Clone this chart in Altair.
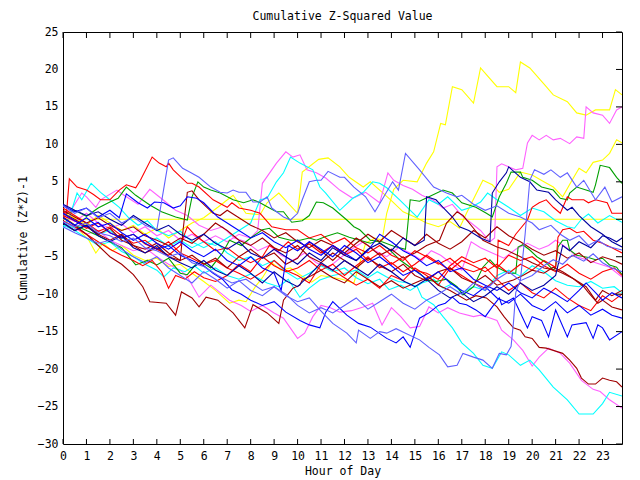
import altair as alt
import pandas as pd

TITLE = "Cumulative Z-Squared Value"
X_TITLE = "Hour of Day"
Y_TITLE = "Cumulative (Z*Z)-1"
HOUR_TICKS = list(range(24))
Y_TICKS = list(range(-30, 26, 5))
X_MAX = 23.83
Y_MIN, Y_MAX = -30, 25

# (hour, cumulative value) pairs, one list per trace
ZERO = [(0, 0), (23.83, 0)]

Y1 = [(0,0.3),(0.4,-0.5),(0.8,-1.8),(1.1,-2.8),(1.4,-4.5),(1.7,-3.2),(2.1,-4.2),(2.5,-3.5),(3.0,-4.8),(3.5,-5.5),(4.0,-5.2),(4.5,-6.3),(5.0,-6.0),(5.5,-7.2),(6.0,-8.3),(6.5,-9.5),(7.1,-11.2),(7.5,-10.8),(7.8,-11.0),(8.2,-9.0),(8.5,-7.8),(8.9,-5.8),(9.3,-6.8),(9.7,-6.5),(10.1,-7.4),(10.6,-8.4),(11.0,-7.5),(11.4,-7.7),(11.9,-8.0),(12.4,-8.5),(12.9,-3.2),(13.3,-2.5),(13.6,-2.8),(13.8,0.8),(14.1,4.0),(14.5,5.2),(15.1,5.0),(15.5,7.5),(15.8,9.0),(16.1,12.8),(16.3,12.6),(16.6,17.7),(17.0,17.3),(17.5,15.5),(17.8,20.2),(18.05,19.3),(18.5,17.7),(19.0,17.7),(19.3,16.9),(19.5,21.0),(19.9,20.2),(20.6,17.7),(20.9,16.6),(21.5,15.7),(21.9,14.2),(22.3,13.9),(22.7,14.6),(23.3,14.6),(23.55,17.3),(23.83,16.6)]
Y2 = [(0,0.8),(0.5,0.2),(1.0,-0.8),(1.5,0.5),(2.0,-0.5),(2.5,-1.5),(3.0,-0.8),(3.5,-2.0),(4.0,-1.2),(4.5,-2.5),(5.0,-1.5),(5.5,-0.5),(6.0,0.2),(6.6,1.6),(7.25,3.2),(7.8,0.8),(8.4,0.6),(8.7,2.2),(9.2,3.5),(10.0,0.8),(10.2,6.3),(10.9,8.0),(11.3,8.2),(11.8,7.0),(12.2,5.6),(12.8,4.3),(13.1,5.0),(13.5,3.9),(14.0,2.5),(14.5,1.0),(15.0,0.3),(15.5,-0.5),(16.0,-1.0),(16.5,-0.3),(16.9,-1.2),(17.2,0.8),(17.9,5.2),(18.3,4.6),(18.6,3.6),(19.0,4.0),(19.5,6.3),(20.0,5.9),(20.5,5.0),(20.9,4.3),(21.3,3.0),(21.7,5.2),(22.0,6.8),(22.3,6.2),(22.6,7.6),(23.0,7.9),(23.3,8.8),(23.6,10.6),(23.83,10.2)]
M1 = [(0,0.5),(0.5,-0.3),(1.0,0.8),(1.5,-0.5),(2.0,-1.2),(2.5,-0.6),(3.0,-1.8),(3.5,-1.0),(4.0,-2.2),(4.5,-1.5),(5.0,-2.8),(5.5,-2.0),(6.0,-3.0),(6.5,-2.2),(7.0,-3.0),(7.5,-2.0),(8.0,-2.5),(8.3,-1.5),(8.5,4.8),(9.1,7.5),(9.5,9.0),(9.8,8.3),(10.1,8.6),(10.4,6.6),(10.8,6.2),(11.2,5.5),(11.8,3.9),(12.35,2.8),(12.9,3.6),(13.5,2.2),(13.85,6.2),(14.1,5.2),(14.5,4.5),(14.9,4.0),(15.3,3.2),(15.8,2.5),(16.2,1.5),(16.6,2.0),(17.0,0.5),(17.4,-0.5),(17.8,-1.5),(18.2,-3.0),(18.4,-2.5),(18.5,7.0),(18.7,7.4),(19.3,6.6),(19.6,6.8),(19.8,10.2),(20.0,11.2),(20.3,10.6),(20.6,11.2),(20.9,10.6),(21.2,10.8),(21.6,10.1),(21.9,11.0),(22.2,10.8),(22.3,15.0),(22.6,14.2),(23.0,13.9),(23.3,12.8),(23.6,14.6),(23.83,15.0)]
M3 = [(0,-0.3),(0.5,-1.2),(1.0,-2.0),(1.5,-1.5),(2.0,-2.8),(2.5,-3.5),(3.0,-4.2),(3.5,-3.8),(4.0,-5.0),(4.5,-6.0),(5.0,-6.8),(5.3,-7.7),(5.8,-10.4),(6.3,-8.8),(6.7,-9.8),(7.1,-10.8),(7.6,-11.5),(8.0,-12.3),(8.5,-11.5),(9.0,-12.5),(9.4,-13.2),(10.0,-15.9),(10.3,-15.2),(10.65,-13.0),(11.0,-11.5),(11.4,-11.8),(11.8,-12.4),(12.3,-12.2),(12.8,-11.7),(13.2,-11.2),(13.6,-14.1),(14.0,-11.8),(14.4,-13.0),(14.8,-14.5),(15.2,-14.3),(15.6,-11.7),(16.0,-12.5),(16.4,-11.8),(16.9,-12.5),(17.5,-13.0),(17.8,-12.8),(18.05,-13.0),(18.5,-13.5),(18.7,-14.8),(19.2,-16.1),(19.6,-17.5),(20.0,-19.6),(20.3,-18.4),(20.7,-17.2),(21.2,-17.9),(21.6,-19.2),(22.1,-21.5),(22.6,-22.7),(22.9,-23.0),(23.3,-24.1),(23.83,-25.2)]
M_MID = [(0,0.5),(0.4,1.5),(0.8,3.5),(1.0,3.0),(1.4,1.6),(1.6,2.6),(2.3,3.9),(2.6,3.2),(3.2,2.0),(3.7,4.0),(4.3,2.5),(4.8,1.2),(5.3,0.5),(5.8,-0.8),(6.3,-1.5),(6.8,-1.0),(7.3,-2.5),(7.8,-3.0),(8.3,-4.2),(8.8,-3.5),(9.3,-4.8),(9.8,-5.5),(10.3,-4.5),(10.8,-5.8),(11.3,-6.5),(11.8,-5.2),(12.3,-4.0),(12.8,-3.0),(13.3,-4.2),(13.8,-5.0),(14.3,-3.8),(14.8,-4.5),(15.3,-5.5),(15.7,-4.2),(16.1,-4.8),(16.6,-6.0),(17.0,-6.8),(17.4,-3.0),(17.8,-3.8),(18.3,-4.5),(18.8,-5.2),(19.3,-4.0),(19.8,-3.2),(20.3,-4.0),(20.7,-3.5),(21.0,-2.8),(21.6,-4.1),(21.9,-5.0),(22.3,-5.4),(22.7,-5.8),(23.3,-6.4),(23.83,-7.7)]
C_LOW = [(0,-0.8),(0.5,-1.5),(1.0,-2.5),(1.5,-3.5),(2.0,-3.0),(2.5,-4.3),(3.0,-5.0),(3.5,-6.0),(4.0,-6.8),(4.3,-7.7),(4.7,-6.5),(5.2,-7.0),(5.6,-6.2),(6.0,-7.2),(6.5,-6.5),(7.0,-7.5),(7.5,-8.0),(8.0,-7.3),(8.7,-8.5),(9.2,-9.0),(9.6,-8.0),(10.1,-10.4),(10.5,-9.2),(10.95,-8.1),(11.5,-7.5),(12.0,-7.2),(12.5,-6.8),(13.0,-7.8),(13.4,-7.0),(13.8,-7.7),(14.3,-8.3),(14.7,-8.5),(15.1,-9.0),(15.3,-10.4),(15.8,-11.4),(16.2,-13.0),(16.6,-14.5),(17.0,-16.5),(17.5,-17.9),(17.9,-19.5),(18.3,-19.9),(18.7,-17.7),(19.0,-18.1),(19.5,-19.5),(19.9,-18.8),(20.3,-20.1),(20.9,-22.4),(21.5,-24.1),(22.0,-26.0),(22.6,-26.0),(23.0,-24.6),(23.3,-23.1),(23.83,-23.6)]
C_HI = [(0,-0.5),(0.5,-1.2),(1.0,-0.8),(1.5,-2.0),(2.0,-1.5),(2.5,-2.6),(3.0,-2.0),(3.5,-3.2),(4.0,-2.5),(4.5,-3.6),(5.0,-2.8),(5.5,-3.8),(6.0,-3.0),(6.5,-3.5),(7.0,-2.5),(7.5,-1.5),(8.0,-0.5),(8.4,2.6),(8.7,2.8),(9.1,5.0),(9.4,6.2),(9.7,8.3),(10.1,7.5),(10.65,6.6),(10.95,4.3),(11.2,3.5),(11.8,1.2),(12.35,2.8),(12.8,3.6),(13.2,5.0),(13.5,4.8),(13.8,4.2),(14.35,2.6),(15.1,0.3),(15.6,2.6),(16.0,2.0),(16.4,3.0),(17.0,1.2),(17.4,1.6),(17.8,2.3),(18.1,3.5),(18.5,2.6),(19.0,1.6),(19.5,0.5),(20.0,1.5),(20.5,1.0),(21.0,-0.2),(21.5,-1.0),(21.8,-1.2),(22.1,0.0),(22.4,0.7),(22.8,-0.5),(23.3,0.5),(23.83,-0.4)]
C_MID = [(0,-1.2),(0.3,0.5),(0.6,3.5),(0.8,2.6),(1.2,4.8),(1.6,3.6),(2.0,2.6),(2.4,1.6),(2.8,0.2),(3.2,-0.8),(3.6,-0.2),(4.0,-1.5),(4.5,-2.2),(5.0,-1.6),(5.5,-3.0),(6.0,-3.8),(6.5,-3.0),(7.0,-4.5),(7.5,-5.5),(8.0,-5.0),(8.5,-6.2),(9.0,-5.5),(9.5,-7.0),(10.0,-8.0),(10.5,-7.2),(11.0,-6.2),(11.5,-7.0),(12.0,-6.5),(12.5,-7.8),(13.0,-8.6),(13.5,-8.0),(13.9,-9.4),(14.4,-8.8),(14.8,-9.5),(15.3,-8.5),(15.8,-8.0),(16.2,-9.2),(16.6,-8.6),(17.0,-9.8),(17.5,-9.0),(18.0,-9.5),(18.5,-7.5),(19.0,-6.8),(19.5,-7.6),(20.0,-6.2),(20.5,-7.0),(21.0,-8.2),(21.5,-8.8),(22.0,-9.0),(22.5,-8.3),(23.0,-9.2),(23.5,-9.0),(23.83,-9.8)]
G1 = [(0,0.5),(0.5,1.2),(1.0,0.4),(1.5,1.5),(2.0,2.3),(2.35,2.8),(2.7,4.3),(3.1,3.2),(3.7,1.9),(4.2,1.0),(4.8,0.3),(5.3,-0.1),(5.5,3.0),(5.75,5.0),(6.0,4.3),(6.3,3.9),(6.7,3.5),(7.25,2.6),(7.7,2.2),(8.1,2.6),(8.4,2.2),(8.8,1.5),(9.1,1.0),(9.4,1.0),(9.75,-0.4),(10.2,-0.2),(10.5,0.5),(10.8,2.3),(11.1,2.2),(11.5,1.5),(12.1,-0.1),(12.4,-1.0),(12.65,-1.4),(13.1,-2.8),(13.6,-3.0),(14.1,-3.6),(14.6,-4.0),(14.8,2.6),(15.2,2.4),(15.6,3.0),(16.2,3.9),(16.6,3.5),(17.0,2.2),(17.6,1.6),(18.05,0.8),(18.3,0.3),(18.6,3.0),(18.9,4.8),(19.1,6.3),(19.5,6.3),(19.6,5.6),(20.0,5.2),(20.4,4.3),(20.9,3.9),(21.2,2.8),(21.5,2.6),(21.6,3.5),(21.9,4.3),(22.3,3.9),(22.6,3.6),(22.7,4.6),(22.9,7.2),(23.3,6.9),(23.6,5.6),(23.83,4.8)]
G_LOW = [(0,0.2),(0.5,-0.8),(1.0,-1.5),(1.5,-2.2),(2.0,-3.0),(2.5,-3.8),(3.1,-6.1),(3.6,-5.5),(4.0,-6.1),(4.5,-5.2),(5.0,-7.2),(5.3,-7.4),(5.8,-5.5),(6.3,-6.5),(6.8,-4.5),(7.1,-2.8),(7.6,-3.5),(8.0,-2.5),(8.5,-1.4),(8.8,-1.2),(9.2,-2.4),(9.7,-2.8),(10.1,-2.8),(10.5,-2.5),(10.8,-2.8),(11.2,-2.3),(11.7,-1.8),(12.2,-2.4),(12.65,-2.8),(13.1,-3.2),(13.4,-2.9),(13.9,-4.0),(14.35,-5.4),(14.8,-6.4),(15.2,-7.2),(15.5,-8.1),(15.9,-8.3),(16.35,-8.0),(16.8,-9.0),(17.05,-10.1),(17.5,-9.0),(17.9,-6.4),(18.2,-5.4),(18.5,-6.4),(19.0,-7.2),(19.3,-7.2),(19.4,-3.7),(19.6,-3.4),(19.9,-4.1),(20.2,-5.0),(20.6,-5.8),(20.9,-6.8),(21.0,-6.4),(21.1,-3.7),(21.3,-2.8),(21.5,-2.8),(21.6,-4.1),(21.9,-4.8),(22.4,-5.1),(22.7,-5.4),(23.0,-5.2),(23.3,-6.1),(23.6,-6.4),(23.83,-7.4)]
R_HI = [(0,1.0),(0.15,0.8),(0.27,5.4),(0.6,4.3),(1.0,3.9),(1.3,3.3),(1.6,2.6),(2.0,2.6),(2.4,3.9),(2.7,4.6),(3.1,4.2),(3.3,5.2),(3.8,8.3),(4.1,7.5),(4.4,7.0),(4.5,7.5),(4.7,6.6),(5.3,4.8),(5.5,4.8),(5.8,4.3),(6.4,2.6),(7.0,1.6),(7.2,2.2),(7.5,1.5),(8.0,1.2),(8.4,0.8),(8.9,-1.0),(9.5,-1.4),(10.0,-1.4),(10.5,-2.5),(11.0,-2.0),(11.5,-3.2),(12.0,-2.5),(12.5,-3.8),(13.0,-4.5),(13.5,-3.5),(14.0,-4.8),(14.5,-5.5),(15.0,-4.2),(15.5,-5.0),(16.0,-6.0),(16.5,-5.2),(17.0,-6.5),(17.5,-7.0),(18.0,-6.4),(18.5,-8.1),(18.55,-2.8),(19.0,-3.5),(19.3,-2.0),(19.8,-0.1),(20.0,1.6),(20.3,2.2),(20.6,2.6),(20.9,1.6),(21.2,0.8),(21.5,3.0),(21.7,2.6),(22.2,2.6),(22.4,2.2),(22.7,2.6),(23.2,2.2),(23.4,0.8),(23.83,0.8)]
R_B = [(0,1.5),(0.5,0.5),(1.0,-0.5),(1.5,-1.6),(2.0,-1.0),(2.5,-2.2),(3.0,-3.2),(3.5,-2.8),(4.0,-4.0),(4.5,-4.8),(5.0,-3.5),(5.3,-1.0),(5.6,-2.0),(6.0,-3.0),(6.5,-4.2),(7.0,-3.8),(7.5,-5.0),(8.0,-5.8),(8.5,-5.0),(9.0,-6.2),(9.5,-7.0),(10.0,-6.5),(10.5,-5.5),(11.0,-6.8),(11.5,-6.0),(12.0,-7.5),(12.5,-6.2),(13.0,-5.0),(13.5,-6.5),(14.0,-5.8),(14.5,-7.0),(15.0,-6.0),(15.5,-4.8),(16.0,-5.8),(16.5,-6.8),(17.0,-5.5),(17.5,-6.2),(18.0,-7.0),(18.5,-6.0),(19.0,-7.2),(19.5,-6.0),(20.0,-6.8),(20.5,-5.5),(21.0,-6.4),(21.1,-2.4),(21.3,-1.4),(21.6,-1.2),(21.9,-1.8),(22.2,-1.6),(22.6,-2.8),(23.0,-3.2),(23.4,-3.8),(23.83,-4.5)]
R_C = [(0,0.5),(0.5,-0.2),(1.0,-1.2),(1.5,-0.5),(2.0,-1.8),(2.5,-2.5),(3.0,-2.0),(3.5,-3.3),(4.0,-4.0),(4.5,-3.0),(5.0,-4.5),(5.5,-5.2),(6.0,-6.0),(6.5,-5.5),(7.0,-6.5),(7.5,-7.2),(8.0,-8.0),(8.5,-7.0),(9.0,-5.5),(9.5,-6.8),(10.0,-7.5),(10.5,-8.5),(11.0,-6.0),(11.5,-6.8),(12.0,-7.8),(12.5,-8.8),(13.0,-8.0),(13.5,-9.2),(14.0,-7.5),(14.5,-8.2),(15.0,-6.5),(15.5,-7.5),(16.0,-8.8),(16.5,-6.5),(17.0,-7.5),(17.5,-8.5),(18.0,-9.2),(18.5,-8.0),(19.0,-9.5),(19.5,-8.5),(20.0,-9.8),(20.5,-10.5),(21.0,-9.2),(21.5,-10.5),(22.0,-11.5),(22.5,-12.2),(23.0,-10.2),(23.4,-11.0),(23.83,-10.0)]
R_D = [(0,-0.2),(0.5,-1.0),(1.0,-2.0),(1.5,-3.0),(2.0,-4.0),(2.5,-4.8),(3.0,-5.5),(3.4,-6.2),(3.8,-5.5),(4.2,-7.0),(4.5,-9.2),(4.8,-7.5),(5.2,-8.0),(5.6,-7.0),(6.0,-7.8),(6.5,-8.3),(7.0,-7.5),(7.5,-6.0),(8.0,-7.0),(8.5,-5.0),(8.8,-3.5),(9.2,-4.2),(9.6,-3.0),(10.0,-4.0),(10.5,-3.3),(11.0,-4.5),(11.5,-3.5),(12.0,-4.8),(12.5,-4.0),(13.0,-5.5),(13.5,-4.5),(14.0,-6.0),(14.5,-5.0),(15.0,-6.8),(15.5,-7.2),(16.0,-8.0),(16.5,-6.2),(17.0,-5.0),(17.5,-5.8),(18.0,-5.2),(18.5,-6.5),(19.0,-4.8),(19.5,-5.5),(20.0,-5.0),(20.5,-6.2),(21.0,-7.0),(21.5,-6.0),(22.0,-7.2),(22.5,-8.0),(23.0,-7.0),(23.5,-6.5),(23.83,-7.5)]
DR1 = [(0,0.3),(0.5,-0.8),(1.0,-2.0),(1.5,-3.5),(2.0,-5.0),(2.5,-6.0),(3.0,-7.4),(3.4,-9.0),(3.7,-11.0),(4.4,-11.2),(4.8,-12.8),(5.05,-9.7),(5.5,-10.5),(5.8,-11.7),(6.1,-10.4),(6.6,-10.8),(7.25,-12.5),(7.75,-14.5),(8.1,-11.4),(8.7,-12.5),(9.2,-13.9),(9.4,-10.8),(9.8,-9.2),(10.1,-8.8),(10.2,-8.1),(10.6,-7.5),(11.0,-6.8),(11.5,-7.8),(12.0,-8.5),(12.5,-7.0),(13.0,-8.0),(13.5,-9.0),(14.0,-8.2),(14.5,-9.2),(15.0,-8.5),(15.6,-7.7),(16.0,-8.8),(16.5,-9.5),(17.2,-10.8),(17.6,-10.2),(18.05,-10.5),(18.5,-11.7),(18.8,-13.0),(19.2,-14.5),(19.5,-14.8),(19.7,-15.7),(20.0,-15.9),(20.3,-17.1),(20.6,-17.2),(20.9,-17.5),(21.3,-17.9),(21.6,-18.8),(21.9,-19.9),(22.1,-21.2),(22.4,-22.0),(22.7,-22.0),(23.0,-21.2),(23.3,-21.5),(23.6,-21.7),(23.83,-22.4)]
DR2 = [(0,1.2),(0.5,0.3),(1.0,-0.5),(1.5,0.2),(2.0,-0.8),(2.5,-1.5),(3.0,-1.0),(3.5,-2.2),(4.0,-2.8),(4.5,-3.5),(5.0,-2.5),(5.5,-3.2),(6.0,-2.0),(6.5,-0.5),(7.0,-1.5),(7.5,-2.8),(8.0,-3.5),(8.5,-2.5),(9.0,-3.8),(9.5,-4.5),(10.0,-3.5),(10.5,-5.0),(11.0,-5.8),(11.5,-4.5),(12.0,-5.5),(12.5,-6.5),(13.0,-5.2),(13.5,-6.2),(14.0,-7.0),(14.5,-6.0),(15.0,-7.5),(15.5,-8.2),(16.0,-7.0),(16.5,-6.5),(17.0,-7.8),(17.5,-8.5),(18.0,-7.5),(18.5,-8.8),(19.2,-8.1),(19.6,-7.5),(20.0,-6.8),(20.5,-7.2),(20.9,-6.4),(21.3,-7.0),(21.7,-7.8),(22.2,-9.0),(22.4,-9.8),(22.8,-11.2),(23.0,-10.8),(23.4,-11.7),(23.83,-12.1)]
DR3 = [(0,-0.5),(0.5,-1.5),(1.0,-0.8),(1.5,-2.0),(2.0,-2.8),(2.5,-2.0),(3.0,-3.5),(3.5,-4.0),(4.0,-3.2),(4.5,-4.5),(5.0,-5.5),(5.5,-4.8),(6.0,-6.0),(6.5,-5.2),(7.0,-6.5),(7.5,-5.0),(8.0,-4.0),(8.5,-5.2),(9.0,-4.5),(9.5,-6.0),(10.0,-5.2),(10.5,-3.0),(11.0,-4.2),(11.5,-5.5),(12.0,-4.0),(12.5,-2.5),(13.0,-3.5),(13.5,-4.8),(14.0,-4.0),(14.5,-5.2),(15.0,-4.5),(15.5,-3.5),(16.05,-2.8),(16.35,-0.5),(16.8,1.0),(17.05,0.5),(17.5,-1.2),(17.9,-2.8),(18.5,-3.7),(18.9,-4.1),(19.5,-5.0),(20.0,-5.8),(20.5,-6.5),(21.0,-6.8),(21.3,-7.2),(21.8,-8.0),(22.3,-9.0),(22.7,-10.8),(23.0,-9.5),(23.4,-10.2),(23.83,-9.5)]
DR4 = [(0,0.8),(0.5,0.0),(1.0,-1.0),(1.5,-2.0),(2.0,-1.2),(2.5,-2.8),(3.0,-3.5),(3.5,-4.5),(4.0,-3.8),(4.5,-5.0),(5.0,-5.5),(5.1,-2.0),(5.3,3.6),(5.5,3.8),(5.8,2.6),(6.4,0.8),(6.7,0.5),(7.0,1.2),(7.5,0.2),(8.0,-0.8),(8.5,-1.5),(9.0,-2.5),(9.5,-1.8),(10.0,-3.0),(10.5,-3.8),(11.0,-2.8),(11.5,-3.5),(12.0,-4.5),(12.5,-3.2),(13.0,-2.0),(13.5,-3.0),(14.0,-1.5),(14.5,-2.5),(15.0,-3.5),(15.5,-2.0),(16.0,-3.2),(16.5,-4.0),(17.0,-3.0),(17.5,-1.5),(18.0,-2.5),(18.5,-1.0),(19.0,-2.2),(19.5,-3.0),(20.0,-4.0),(20.5,-4.8),(21.0,-4.2),(21.5,-5.2),(22.0,-4.5),(22.5,-5.8),(23.0,-5.0),(23.5,-5.5),(23.83,-6.0)]
B_LOW = [(0,0.8),(0.5,-0.2),(1.0,-1.0),(1.5,-0.4),(2.0,-1.8),(2.5,-2.5),(3.0,-2.0),(3.5,-3.2),(4.0,-4.0),(4.5,-3.5),(5.0,-4.8),(5.5,-5.5),(6.0,-6.2),(6.4,-7.2),(6.8,-8.0),(7.2,-9.4),(7.6,-10.0),(8.0,-10.8),(8.5,-11.5),(9.0,-11.0),(9.5,-12.4),(10.1,-13.5),(10.5,-14.1),(10.95,-14.5),(11.2,-12.4),(11.5,-11.0),(12.1,-12.8),(12.6,-13.9),(13.1,-14.4),(13.8,-15.9),(14.2,-16.5),(14.5,-15.7),(14.8,-17.1),(15.2,-13.2),(15.6,-12.5),(16.0,-11.5),(16.3,-11.2),(16.6,-10.4),(16.9,-11.2),(17.2,-11.4),(17.6,-12.1),(18.0,-13.0),(18.3,-11.7),(18.6,-10.5),(18.7,-11.4),(19.2,-10.5),(19.5,-12.5),(19.8,-14.5),(20.0,-13.0),(20.4,-13.5),(20.7,-15.7),(21.0,-12.1),(21.5,-15.7),(21.7,-14.1),(22.3,-13.8),(22.6,-15.9),(22.8,-14.1),(23.0,-14.5),(23.3,-16.1),(23.83,-15.0)]
B_A = [(0,1.8),(0.5,1.0),(1.0,1.5),(1.5,0.3),(2.0,1.2),(2.4,0.2),(2.7,3.4),(3.2,2.2),(3.6,1.5),(3.9,2.3),(4.3,2.2),(4.7,1.5),(5.0,1.8),(5.3,3.0),(5.7,2.8),(6.0,2.2),(6.6,0.3),(7.0,-0.5),(7.5,-1.5),(8.0,-2.5),(8.5,-1.8),(9.0,-3.0),(9.5,-3.8),(10.0,-2.8),(10.5,-4.0),(11.0,-4.8),(11.5,-3.5),(12.0,-4.5),(12.5,-5.5),(13.0,-4.2),(13.5,-2.0),(14.0,-3.0),(14.5,-4.2),(15.0,-5.0),(15.5,-6.2),(16.0,-5.5),(16.5,-7.0),(17.0,-6.5),(17.5,-8.0),(18.0,-8.8),(18.5,-9.5),(19.0,-8.5),(19.5,-9.8),(20.0,-10.5),(20.5,-9.2),(21.0,-10.0),(21.5,-11.0),(22.0,-9.5),(22.3,-8.5),(22.7,-9.8),(23.0,-10.8),(23.4,-9.8),(23.83,-10.5)]
B_B = [(0,0.2),(0.5,-0.8),(1.0,0.2),(1.5,-1.0),(2.0,-0.5),(2.5,-1.8),(3.0,-2.8),(3.5,-2.0),(4.0,-3.2),(4.5,-4.0),(5.0,-3.0),(5.5,-4.2),(6.0,-5.0),(6.5,-4.0),(7.0,-5.5),(7.5,-6.2),(8.0,-5.0),(8.5,-6.5),(9.0,-7.2),(9.3,-9.5),(9.6,-3.5),(10.0,-4.2),(10.5,-3.0),(11.0,-4.0),(11.5,-5.0),(12.0,-3.5),(12.5,-4.5),(13.0,-5.8),(13.5,-5.0),(14.0,-6.2),(14.5,-7.5),(15.0,-6.8),(15.5,-8.0),(16.0,-7.0),(16.5,-8.5),(17.0,-9.5),(17.5,-10.2),(18.0,-9.0),(18.5,-10.5),(19.0,-11.2),(19.5,-10.0),(20.0,-11.5),(20.5,-12.2),(21.0,-11.0),(21.5,-12.5),(22.0,-11.5),(22.5,-12.8),(23.0,-12.0),(23.4,-12.8),(23.83,-13.2)]
DB1 = [(0,2.0),(0.5,1.2),(1.0,0.5),(1.5,1.0),(2.0,0.0),(2.5,-0.8),(3.0,0.5),(3.5,-0.5),(4.0,-1.5),(4.5,-0.8),(5.0,-2.0),(5.5,-2.8),(6.0,-2.0),(6.5,-3.2),(7.0,-4.0),(7.5,-3.0),(8.0,-4.5),(8.5,-5.2),(9.0,-4.0),(9.5,-5.0),(10.0,-6.0),(10.5,-4.5),(11.0,-5.5),(11.5,-3.8),(12.0,-4.8),(12.5,-5.5),(13.0,-4.0),(13.5,-3.2),(14.0,-4.2),(14.5,-2.5),(15.0,-3.5),(15.4,-2.8),(15.5,3.0),(15.9,2.6),(16.2,1.6),(16.6,0.3),(16.9,-1.0),(17.3,-1.5),(17.8,-2.5),(18.2,-3.0),(18.3,3.5),(18.6,5.0),(18.9,6.2),(19.0,7.0),(19.5,5.6),(19.9,5.0),(20.2,3.9),(20.7,3.6),(21.0,2.6),(21.5,1.2),(21.7,1.6),(22.0,0.5),(22.5,-1.0),(23.0,-2.0),(23.4,-3.0),(23.83,-3.7)]
DB2 = [(0,-0.5),(0.5,-1.5),(1.0,-0.8),(1.5,-2.2),(2.0,-3.0),(2.5,-2.2),(3.0,-3.8),(3.5,-4.5),(4.0,-3.5),(4.5,-5.0),(5.0,-5.8),(5.5,-6.5),(6.0,-5.5),(6.5,-6.8),(7.0,-7.5),(7.5,-6.2),(8.0,-7.2),(8.5,-8.5),(9.0,-7.0),(9.5,-8.2),(10.0,-9.0),(10.5,-7.5),(11.0,-5.8),(11.5,-6.8),(12.0,-5.5),(12.5,-6.5),(13.0,-7.5),(13.5,-6.0),(14.0,-7.0),(14.5,-8.2),(15.0,-9.0),(15.5,-8.0),(16.0,-9.5),(16.5,-10.5),(17.0,-9.8),(17.5,-11.0),(18.0,-10.2),(18.5,-9.0),(19.0,-10.0),(19.5,-8.5),(20.0,-9.5),(20.5,-8.8),(21.0,-7.5),(21.3,-3.5),(21.6,-4.2),(22.0,-3.0),(22.5,-3.8),(23.0,-2.2),(23.3,-2.5),(23.6,-3.0),(23.83,-2.5)]
MB_LOW = [(0,-0.3),(0.5,-1.0),(1.0,-0.5),(1.5,-1.8),(2.0,-2.2),(2.5,-3.0),(3.0,-2.5),(3.5,-3.8),(4.0,-4.2),(4.5,-5.0),(5.0,-4.5),(5.5,-5.8),(6.0,-6.3),(6.6,-7.5),(7.2,-8.5),(7.8,-8.0),(8.5,-9.5),(9.0,-9.0),(9.5,-10.2),(10.0,-11.0),(10.5,-10.5),(10.95,-12.1),(11.5,-13.9),(12.1,-15.2),(12.5,-16.5),(12.6,-14.8),(13.1,-15.9),(13.5,-15.0),(13.8,-15.2),(14.2,-14.6),(14.6,-15.2),(15.2,-16.1),(15.6,-17.1),(16.05,-18.1),(16.4,-19.7),(16.8,-19.5),(17.05,-17.9),(17.5,-18.4),(17.9,-18.8),(18.3,-19.9),(18.6,-17.9),(18.9,-18.1),(19.1,-17.0),(19.2,-13.9),(19.3,-9.8),(19.5,-8.1),(19.7,-2.0),(19.9,5.2),(20.1,6.6),(20.5,6.0),(20.8,6.6),(21.2,5.6),(21.5,6.2),(21.9,4.3),(22.2,5.2),(22.7,2.6),(23.1,4.3),(23.4,2.3),(23.83,3.0)]
MB_HI = [(0,1.8),(0.5,0.8),(1.0,1.5),(1.5,0.2),(2.0,0.8),(2.5,-0.5),(3.0,0.3),(3.5,-0.8),(4.0,-1.4),(4.5,7.9),(4.7,8.2),(5.1,6.8),(5.4,6.3),(5.8,5.6),(6.3,4.3),(6.7,3.6),(7.0,3.5),(7.25,3.9),(7.5,3.6),(7.8,3.6),(8.1,2.3),(8.4,2.3),(8.7,3.0),(8.9,1.5),(9.4,0.3),(9.7,-0.1),(10.0,0.8),(10.2,2.6),(10.5,5.0),(10.8,5.2),(11.0,5.2),(11.3,6.4),(11.8,5.6),(12.0,5.6),(12.4,4.3),(12.9,3.0),(13.3,1.0),(13.6,2.6),(14.05,5.0),(14.3,3.9),(14.6,8.8),(15.2,6.6),(15.8,4.3),(16.35,3.5),(16.8,3.0),(17.0,3.2),(17.5,2.0),(18.0,1.2),(18.5,1.8),(19.0,0.8),(19.5,0.3),(20.0,-0.5),(20.3,-1.4),(20.8,-0.8),(21.2,-2.0),(21.6,-2.8),(22.0,-2.2),(22.4,-3.5),(22.8,-2.8),(23.2,-3.6),(23.83,-4.1)]
MB_C = [(0,-1.0),(0.5,-1.8),(1.0,-2.5),(1.5,-3.2),(2.0,-2.8),(2.5,-4.0),(3.0,-5.0),(3.5,-5.8),(4.0,-5.0),(4.5,-6.5),(5.0,-7.5),(5.5,-8.5),(6.0,-7.0),(6.5,-8.0),(7.0,-9.2),(7.5,-8.2),(8.0,-9.5),(8.5,-10.2),(9.0,-9.0),(9.5,-10.0),(10.0,-11.5),(10.5,-12.5),(11.0,-11.8),(11.5,-12.5),(12.0,-11.5),(12.5,-10.5),(13.0,-12.0),(13.5,-11.0),(14.0,-10.0),(14.5,-11.2),(15.0,-12.0),(15.5,-10.8),(16.0,-10.0),(16.5,-9.0),(17.0,-10.0),(17.5,-8.5),(18.0,-9.5),(18.5,-8.0),(19.0,-7.0),(19.5,-8.2),(20.0,-7.5),(20.5,-6.2),(20.9,-5.4),(21.3,-6.0),(21.7,-4.8),(22.2,-5.6),(22.6,-4.6),(23.0,-5.8),(23.4,-6.5),(23.83,-7.0)]

TRACES = {
    "zero": ZERO, "Y1": Y1, "Y2": Y2, "M1": M1, "M3": M3, "M_MID": M_MID,
    "C_LOW": C_LOW, "C_HI": C_HI, "C_MID": C_MID, "G1": G1, "G_LOW": G_LOW,
    "R_HI": R_HI, "R_B": R_B, "R_C": R_C, "R_D": R_D,
    "DR1": DR1, "DR2": DR2, "DR3": DR3, "DR4": DR4,
    "B_LOW": B_LOW, "B_A": B_A, "B_B": B_B, "DB1": DB1, "DB2": DB2,
    "MB_LOW": MB_LOW, "MB_HI": MB_HI, "MB_C": MB_C,
}

# styles
YELLOW, MAGENTA, CYAN, GREEN = "#ffff00", "#ff60ff", "#00ffff", "#00a000"
RED, DARKRED, BLUE, DARKBLUE, MIDBLUE = "#ff0000", "#a00000", "#0000ff", "#0000a0", "#6060ff"
COLORS = {
    "zero": YELLOW, "Y1": YELLOW, "Y2": YELLOW, "M1": MAGENTA, "M3": MAGENTA, "M_MID": MAGENTA,
    "C_LOW": CYAN, "C_HI": CYAN, "C_MID": CYAN, "G1": GREEN, "G_LOW": GREEN,
    "R_HI": RED, "R_B": RED, "R_C": RED, "R_D": RED,
    "DR1": DARKRED, "DR2": DARKRED, "DR3": DARKRED, "DR4": DARKRED,
    "B_LOW": BLUE, "B_A": BLUE, "B_B": BLUE, "DB1": DARKBLUE, "DB2": DARKBLUE,
    "MB_LOW": MIDBLUE, "MB_HI": MIDBLUE, "MB_C": MIDBLUE,
}

rows = []
for name, pts in TRACES.items():
    for i, (h, v) in enumerate(pts):
        rows.append({"series": name, "hour": h, "value": v, "idx": i})
df = pd.DataFrame(rows)
names = list(TRACES.keys())

FONT = "DejaVu Sans Mono"
PW, PH = 559, 412

xscale = alt.Scale(domain=[0, X_MAX], nice=False, zero=False)
yscale = alt.Scale(domain=[Y_MIN, Y_MAX], nice=False, zero=False)
xaxis = alt.Axis(values=HOUR_TICKS, title=X_TITLE, labelPadding=6, titlePadding=4,
                 labelFlush=False, domain=False, ticks=False, grid=False)
yaxis = alt.Axis(values=Y_TICKS, title=Y_TITLE, labelPadding=5, titlePadding=9,
                 domain=False, ticks=False, grid=False)

lines = alt.Chart(df).mark_line(strokeWidth=1.1, clip=True).encode(
    x=alt.X("hour:Q", scale=xscale, axis=xaxis),
    y=alt.Y("value:Q", scale=yscale, axis=yaxis),
    color=alt.Color("series:N", scale=alt.Scale(domain=names,
                    range=[COLORS[n] for n in names]), legend=None),
    order=alt.Order("idx:Q"),
)

hour_df = pd.DataFrame({"hour": HOUR_TICKS})
val_df = pd.DataFrame({"value": Y_TICKS})

bottom_ticks = alt.Chart(hour_df).mark_rule(color="black", strokeWidth=1).encode(
    x=alt.X("hour:Q", scale=xscale, axis=xaxis), y=alt.value(PH), y2=alt.value(PH - 5))
top_ticks = alt.Chart(hour_df).mark_rule(color="black", strokeWidth=1).encode(
    x=alt.X("hour:Q", scale=xscale, axis=xaxis), y=alt.value(0), y2=alt.value(6))
right_ticks = alt.Chart(val_df).mark_rule(color="black", strokeWidth=1).encode(
    y=alt.Y("value:Q", scale=yscale, axis=yaxis), x=alt.value(PW), x2=alt.value(PW - 6))

chart = alt.layer(lines, bottom_ticks, top_ticks, right_ticks).properties(
    width=PW, height=PH,
    background="white",
    title=alt.TitleParams(TITLE, font=FONT, fontSize=11.5, fontWeight="normal",
                          color="black", offset=4, anchor="middle"),
    autosize=alt.AutoSizeParams(type="none"),
    padding={"left": 55, "top": 24, "right": 8, "bottom": 36},
).configure_view(
    stroke="black", strokeWidth=1
).configure_axis(
    labelFont=FONT, titleFont=FONT, labelFontSize=11.5, titleFontSize=11.5,
    titleFontWeight="normal", labelColor="black", titleColor="black",
    tickSize=0,
)

chart.save("out.html", embed_options={"renderer": "svg", "actions": False})
